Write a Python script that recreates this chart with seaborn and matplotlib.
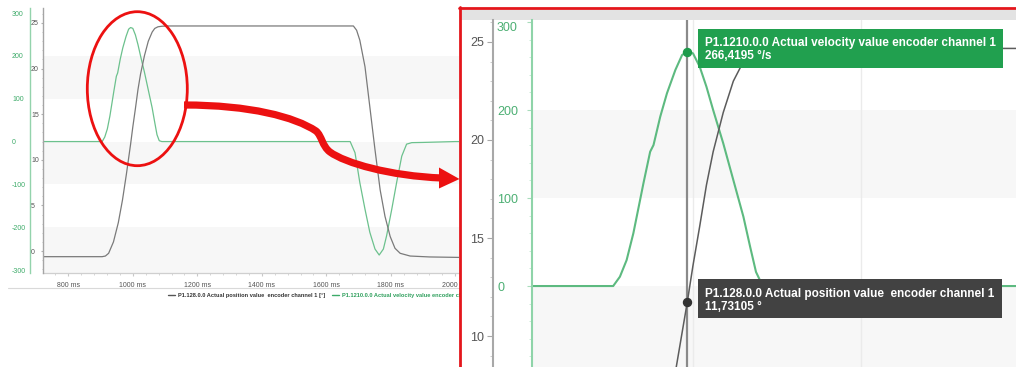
import numpy as np
import pandas as pd
import matplotlib
matplotlib.use("Agg")
import matplotlib.pyplot as plt
import seaborn as sns
from matplotlib.patches import Rectangle, Ellipse, PathPatch, Polygon
from matplotlib.path import Path
from matplotlib.lines import Line2D
from matplotlib.ticker import MultipleLocator

# ---------------- data ----------------
vel_time_ms = [700, 905, 913, 921, 929, 937, 941, 949, 953, 961, 969, 979, 987, 993.2,
               1000, 1008, 1016, 1024, 1036, 1048, 1060, 1068, 1075, 1082, 1090,
               1674, 1689, 1704, 1720, 1735, 1751, 1764, 1777, 1787, 1803, 1818,
               1834, 1849, 1865, 1900, 1950, 2000, 2100]
vel_deg_s = [0, 0, 10.6, 29.5, 59.9, 97.7, 116.7, 152.6, 160.2, 192.4, 219.0, 245.5, 262.5, 266.4,
             264.4, 249.2, 226.5, 200.0, 162.2, 120.5, 78.8, 44.7, 16.0, 2.0, 0,
             0, -26, -96, -158, -212, -251, -265, -251, -220, -158, -96,
             -34, -6, -2.5, -2, -1, 0, 0]

pos_time_ms = [700, 905, 915, 925, 940, 955, 968, 980, 993.2, 1000, 1008, 1016, 1024, 1036,
               1048, 1060, 1068, 1078, 1090, 1110, 1684, 1694, 1704, 1720, 1735, 1751,
               1767, 1782, 1798, 1813, 1829, 1860, 1920, 2010, 2100]
pos_deg = [-0.62, -0.62, -0.55, -0.25, 1.0, 3.1, 5.6, 8.4, 11.73, 13.6, 15.6, 17.7, 19.4, 21.4,
           23.0, 24.0, 24.4, 24.58, 24.64, 24.67, 24.67, 24.2, 23.1, 20.2, 15.8, 11.1,
           6.7, 3.8, 1.6, 0.3, -0.25, -0.55, -0.65, -0.7, -0.7]

cursor_time_ms = 993.2
cursor_velocity = 266.4195
cursor_position = 11.73105

x_ticks = [800, 1000, 1200, 1400, 1600, 1800, 2000]
x_tick_labels = ["800 ms", "1000 ms", "1200 ms", "1400 ms", "1600 ms", "1800 ms", "2000 ms"]
vel_ticks = [-300, -200, -100, 0, 100, 200, 300]
vel_tick_labels = ["-300", "-200", "-100", "0", "100", "200", "300"]
pos_ticks = [0, 5, 10, 15, 20, 25]
pos_tick_labels = ["0", "5", "10", "15", "20", "25"]
zoom_vel_ticks = [0, 100, 200, 300]
zoom_vel_tick_labels = ["0", "100", "200", "300"]
zoom_pos_ticks = [10, 15, 20, 25]
zoom_pos_tick_labels = ["10", "15", "20", "25"]

pos_name = "P1.128.0.0 Actual position value  encoder channel 1"
vel_name = "P1.1210.0.0 Actual velocity value encoder channel 1"
pos_unit = "°"
vel_unit = "°/s"

# ---------------- style ----------------
sns.set_style("white")
plt.rcParams["font.family"] = ["Liberation Sans", "DejaVu Sans"]
plt.rcParams["axes.unicode_minus"] = False

W, H = 1016, 367
PT = 0.72  # points per pixel at dpi 100
fig = plt.figure(figsize=(W / 100, H / 100), dpi=100)
fig.patch.set_facecolor("white")


def fx(x):
    return x / W


def fy(y):
    return 1 - y / H


def rect_px(x0, y0, x1, y1):
    return [fx(x0), fy(y1), (x1 - x0) / W, (y1 - y0) / H]


vel_df = pd.DataFrame({"t": vel_time_ms, "v": vel_deg_s})
pos_df = pd.DataFrame({"t": pos_time_ms, "p": pos_deg})

GREEN_L = "#6cc18d"
GRAY_L = "#7a7a7a"
GREEN_TXT = "#3dab69"
BAND = "#f7f7f7"
RED = "#ec1111"

# ---------------- left (overview) panel ----------------
axL = fig.add_axes(rect_px(43, 8, 459, 273))
axL.set_zorder(0)
axL.set_facecolor("white")
for lo, hi in [(100, 200), (-100, 0), (-320, -200)]:
    axL.axhspan(lo, hi, color=BAND, zorder=0.5, lw=0)
sns.lineplot(data=vel_df, x="t", y="v", ax=axL, color=GREEN_L, linewidth=0.9,
             estimator=None, zorder=2)
axL.set_xlim(721.5, 2011.5)
axL.set_ylim(-307, 312)
axL.set_xlabel("")
axL.set_ylabel("")
for s in ["top", "right"]:
    axL.spines[s].set_visible(False)
axL.spines["left"].set_position(("outward", 13 * PT))
axL.spines["left"].set_color("#93d3ac")
axL.spines["left"].set_linewidth(1.0)
axL.spines["bottom"].set_color("#cfcfcf")
axL.spines["bottom"].set_linewidth(0.9)
axL.set_xticks(x_ticks)
axL.set_xticklabels(x_tick_labels, fontsize=5, color="#555555")
axL.xaxis.set_minor_locator(MultipleLocator(40))
axL.tick_params(axis="x", which="major", bottom=True, length=3 * PT, color="#c8c8c8", pad=4)
axL.tick_params(axis="x", which="minor", bottom=True, length=2 * PT, color="#cfcfcf")
axL.set_yticks(vel_ticks)
axL.set_yticklabels(vel_tick_labels, fontsize=5, color=GREEN_TXT)
axL.tick_params(axis="y", which="major", left=True, length=0, pad=18 * PT)
plt.setp(axL.get_yticklabels(), ha="left")

axLp = axL.twinx()
axLp.set_zorder(0.1)
sns.lineplot(data=pos_df, x="t", y="p", ax=axLp, color=GRAY_L, linewidth=0.9,
             estimator=None)
axLp.set_ylim(-2.41, 26.64)
axLp.set_xlim(721.5, 2011.5)
axLp.set_xlabel("")
axLp.set_ylabel("")
axLp.yaxis.set_ticks_position("left")
for s in ["top", "right", "bottom"]:
    axLp.spines[s].set_visible(False)
axLp.spines["left"].set_visible(True)
axLp.spines["left"].set_color("#a5a5a5")
axLp.spines["left"].set_linewidth(1.0)
axLp.set_yticks(pos_ticks)
axLp.set_yticklabels(pos_tick_labels, fontsize=5, color="#555555")
axLp.yaxis.set_minor_locator(MultipleLocator(1))
axLp.tick_params(axis="y", which="major", left=True, right=False, length=2 * PT,
                 color="#b0b0b0", pad=10 * PT)
axLp.tick_params(axis="y", which="minor", left=True, right=False, length=1.5 * PT,
                 color="#c0c0c0")
plt.setp(axLp.get_yticklabels(), ha="left")

# legend under the overview chart
handles = [Line2D([], [], color="#555555", lw=1.0), Line2D([], [], color="#3dab69", lw=1.0)]
labels = [f"{pos_name} [{pos_unit}]", f"{vel_name} [{vel_unit}]"]
leg = fig.legend(handles, labels, loc="center left", bbox_to_anchor=(fx(168), fy(295.3)),
                 ncol=2, frameon=False, handlelength=1.23, handletextpad=0.5,
                 columnspacing=1.2, borderpad=0, borderaxespad=0,
                 prop={"size": 4.1, "weight": "bold"})
leg.get_texts()[0].set_color("#333333")
leg.get_texts()[1].set_color("#2e9f5c")
leg.set_zorder(0.5)

fig.add_artist(Line2D([fx(8), fx(459)], [fy(288.3), fy(288.3)], color="#d9d9d9", lw=0.8,
                      transform=fig.transFigure, zorder=0.5))

# ---------------- right (zoomed) panel ----------------
fig.add_artist(Rectangle((fx(460), 0), (W - 460) / W, fy(8), transform=fig.transFigure,
                         facecolor="white", edgecolor="none", zorder=1))
fig.add_artist(Rectangle((fx(461), fy(19.5)), (W - 461) / W, 9.5 / H, transform=fig.transFigure,
                         facecolor="#e3e3e3", edgecolor="none", zorder=1.5))

axR = fig.add_axes(rect_px(531.7, 20, 1016, 367))
axR.set_zorder(2)
axR.set_facecolor("white")
for lo, hi in [(100, 200), (-100, 0)]:
    axR.axhspan(lo, hi, color=BAND, zorder=0.5, lw=0)
for xt in x_ticks:
    axR.axvline(xt, color="#ebebeb", lw=1.0, zorder=0.7)
axR.axvline(cursor_time_ms, color="#8a8a8a", lw=1.6, zorder=1.5)
sns.lineplot(data=vel_df, x="t", y="v", ax=axR, color="#5dba80", linewidth=1.5,
             estimator=None, zorder=2)
axR.plot([cursor_time_ms], [cursor_velocity], "o", ms=8 * PT, color="#1d9b4b", zorder=3)
axR.set_xlim(808.0, 1384.5)
axR.set_ylim(-92.0, 302.3)
axR.set_xlabel("")
axR.set_ylabel("")
for s in ["top", "right", "bottom"]:
    axR.spines[s].set_visible(False)
axR.spines["left"].set_color("#8fd4a9")
axR.spines["left"].set_linewidth(1.5)
axR.set_xticks([])
axR.set_yticks(zoom_vel_ticks)
axR.set_yticklabels(zoom_vel_tick_labels, fontsize=9, color="#4caf73")
axR.yaxis.set_minor_locator(MultipleLocator(20))
axR.tick_params(axis="y", which="major", left=True, length=5 * PT, color="#a9dcbc",
                pad=29.7 * PT)
axR.tick_params(axis="y", which="minor", left=True, length=3 * PT, color="#c5e8d2")
plt.setp(axR.get_yticklabels(), ha="left")
axR.get_yticklabels()[-1].set_va("top")

axRp = axR.twinx()
axRp.set_zorder(2.1)
sns.lineplot(data=pos_df, x="t", y="p", ax=axRp, color="#5c5c5c", linewidth=1.1,
             estimator=None)
axRp.plot([cursor_time_ms], [cursor_position], "o", ms=8 * PT, color="#333333", zorder=3)
axRp.set_xlim(808.0, 1384.5)
axRp.set_ylim(8.42, 26.12)
axRp.set_xlabel("")
axRp.set_ylabel("")
axRp.yaxis.set_ticks_position("left")
for s in ["top", "right", "bottom"]:
    axRp.spines[s].set_visible(False)
axRp.spines["left"].set_visible(True)
axRp.spines["left"].set_position(("outward", 38.7 * PT))
axRp.spines["left"].set_color("#a8a8a8")
axRp.spines["left"].set_linewidth(1.5)
axRp.set_yticks(zoom_pos_ticks)
axRp.set_yticklabels(zoom_pos_tick_labels, fontsize=9, color="#555555")
axRp.yaxis.set_minor_locator(MultipleLocator(1))
axRp.tick_params(axis="y", which="major", left=True, right=False, length=6 * PT,
                 color="#a8a8a8", pad=17 * PT)
axRp.tick_params(axis="y", which="minor", left=True, right=False, length=3 * PT,
                 color="#c4c4c4")
plt.setp(axRp.get_yticklabels(), ha="left")

# tooltips
vel_value_txt = f"{cursor_velocity:.4f}".replace(".", ",") + f" {vel_unit}"
pos_value_txt = f"{cursor_position:.5f}".replace(".", ",") + f" {pos_unit}"
fig.add_artist(Rectangle((fx(698.3), fy(68.3)), (1002.5 - 698.3) / W, 39 / H,
                         transform=fig.transFigure, facecolor="#21a04f", edgecolor="none",
                         zorder=3))
fig.add_artist(Rectangle((fx(698.3), fy(318.3)), (1001.7 - 698.3) / W, 39 / H,
                         transform=fig.transFigure, facecolor="#424242", edgecolor="none",
                         zorder=3))
for txt, y in [(vel_name, 43), (vel_value_txt, 56.3), (pos_name, 293.5), (pos_value_txt, 306.6)]:
    fig.text(fx(705), fy(y), txt, color="white", fontsize=8.5, fontweight="bold",
             ha="left", va="center", zorder=3.5)

# red frame around the zoomed panel
fig.add_artist(Line2D([fx(459), fx(1016)], [fy(8.3), fy(8.3)], color="#e4161c", lw=2.0,
                      transform=fig.transFigure, zorder=4))
fig.add_artist(Line2D([fx(460), fx(460)], [fy(7.3), 0], color="#e4161c", lw=2.0,
                      transform=fig.transFigure, zorder=4))

# red ellipse and arrow on the overview
fig.add_artist(Ellipse((fx(137.3), fy(88.7)), 100 / W, 154 / H, transform=fig.transFigure,
                       fill=False, edgecolor=RED, lw=2.0, zorder=4))
pts = [(184, 105), (250, 105), (295, 117), (316, 131),
       (322, 136), (322, 146), (330, 152),
       (345, 163), (390, 176), (442, 178)]
codes = [Path.MOVETO] + [Path.CURVE4] * 9
arrow_path = Path([(fx(x), fy(y)) for x, y in pts], codes)
fig.add_artist(PathPatch(arrow_path, transform=fig.transFigure, facecolor="none",
                         edgecolor=RED, lw=5.2, capstyle="butt", zorder=4))
fig.add_artist(Polygon([(fx(439), fy(167.5)), (fx(459.5), fy(179)), (fx(439), fy(188.5))],
                       closed=True, transform=fig.transFigure, facecolor=RED,
                       edgecolor="none", zorder=4))

fig.savefig("out.png", dpi=100, facecolor="white")
